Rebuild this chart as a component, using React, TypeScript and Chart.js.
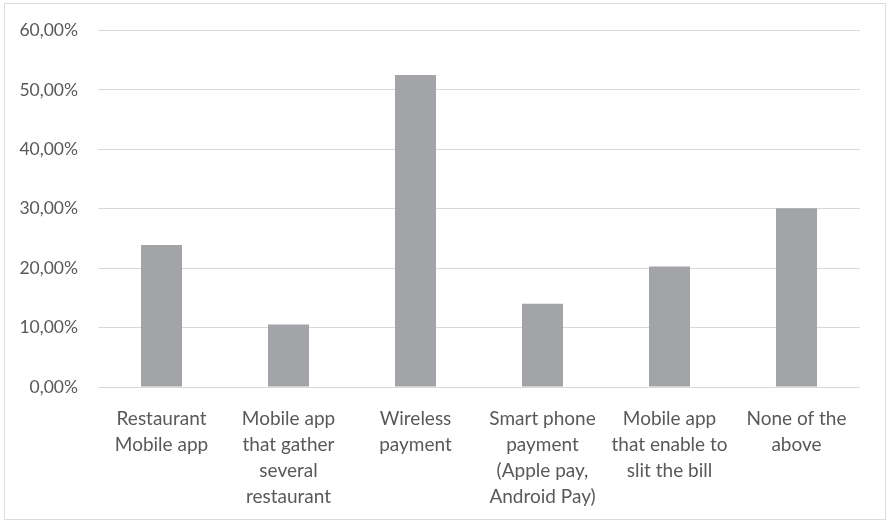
import React, { useEffect, useRef } from "react";
import { Chart, registerables } from "chart.js";

Chart.register(...registerables);

const categories: string[][] = [
  ["Restaurant", "Mobile app"],
  ["Mobile app", "that gather", "several", "restaurant"],
  ["Wireless", "payment"],
  ["Smart phone", "payment", "(Apple pay,", "Android Pay)"],
  ["Mobile app", "that enable to", "slit the bill"],
  ["None of the", "above"],
];
const values: number[] = [23.9, 10.5, 52.5, 14.0, 20.3, 30.1];
const yMin = 0;
const yMax = 60;
const yStep = 10;

const formatPct = (v: number) => v.toFixed(2).replace(".", ",") + "%";

export default function App() {
  const ref = useRef<HTMLCanvasElement | null>(null);
  useEffect(() => {
    document.body.style.margin = "0";
    if (!ref.current) return;
    const chart = new Chart(ref.current, {
      type: "bar",
      data: {
        labels: categories,
        datasets: [
          {
            data: values,
            backgroundColor: "#a3a4a8",
            borderWidth: 0,
            categoryPercentage: 1,
            barPercentage: 0.323,
          },
        ],
      },
      options: {
        animation: false,
        responsive: false,
        maintainAspectRatio: false,
        layout: { padding: { top: 25, right: 26, bottom: 0, left: 0 } },
        plugins: { legend: { display: false }, tooltip: { enabled: false } },
        scales: {
          x: {
            grid: { display: false },
            border: { display: false },
            ticks: {
              color: "#595959",
              font: { family: "Lato", size: 19, lineHeight: 1.37 },
              padding: 11,
              maxRotation: 0,
              autoSkip: false,
            },
            afterFit: (s: any) => {
              s.height = 133;
            },
          },
          y: {
            min: yMin,
            max: yMax,
            grid: { color: "#d9d9d9", lineWidth: 1, drawTicks: false },
            border: { display: false },
            ticks: {
              stepSize: yStep,
              color: "#595959",
              font: { family: "Lato", size: 17.5 },
              padding: 20,
              callback: (v: any) => formatPct(Number(v)),
            },
            afterFit: (s: any) => {
              s.width = 98;
            },
          },
        },
      },
    });
    return () => chart.destroy();
  }, []);
  return (
    <div style={{ position: "relative", width: 886, height: 520, background: "#fff" }}>
      <canvas ref={ref} width={886} height={520} style={{ position: "absolute", left: 0, top: 0 }} />
      <div
        style={{
          position: "absolute",
          left: 4,
          top: 3,
          width: 880,
          height: 515,
          border: "1px solid #dcdcdc",
          pointerEvents: "none",
        }}
      />
    </div>
  );
}
